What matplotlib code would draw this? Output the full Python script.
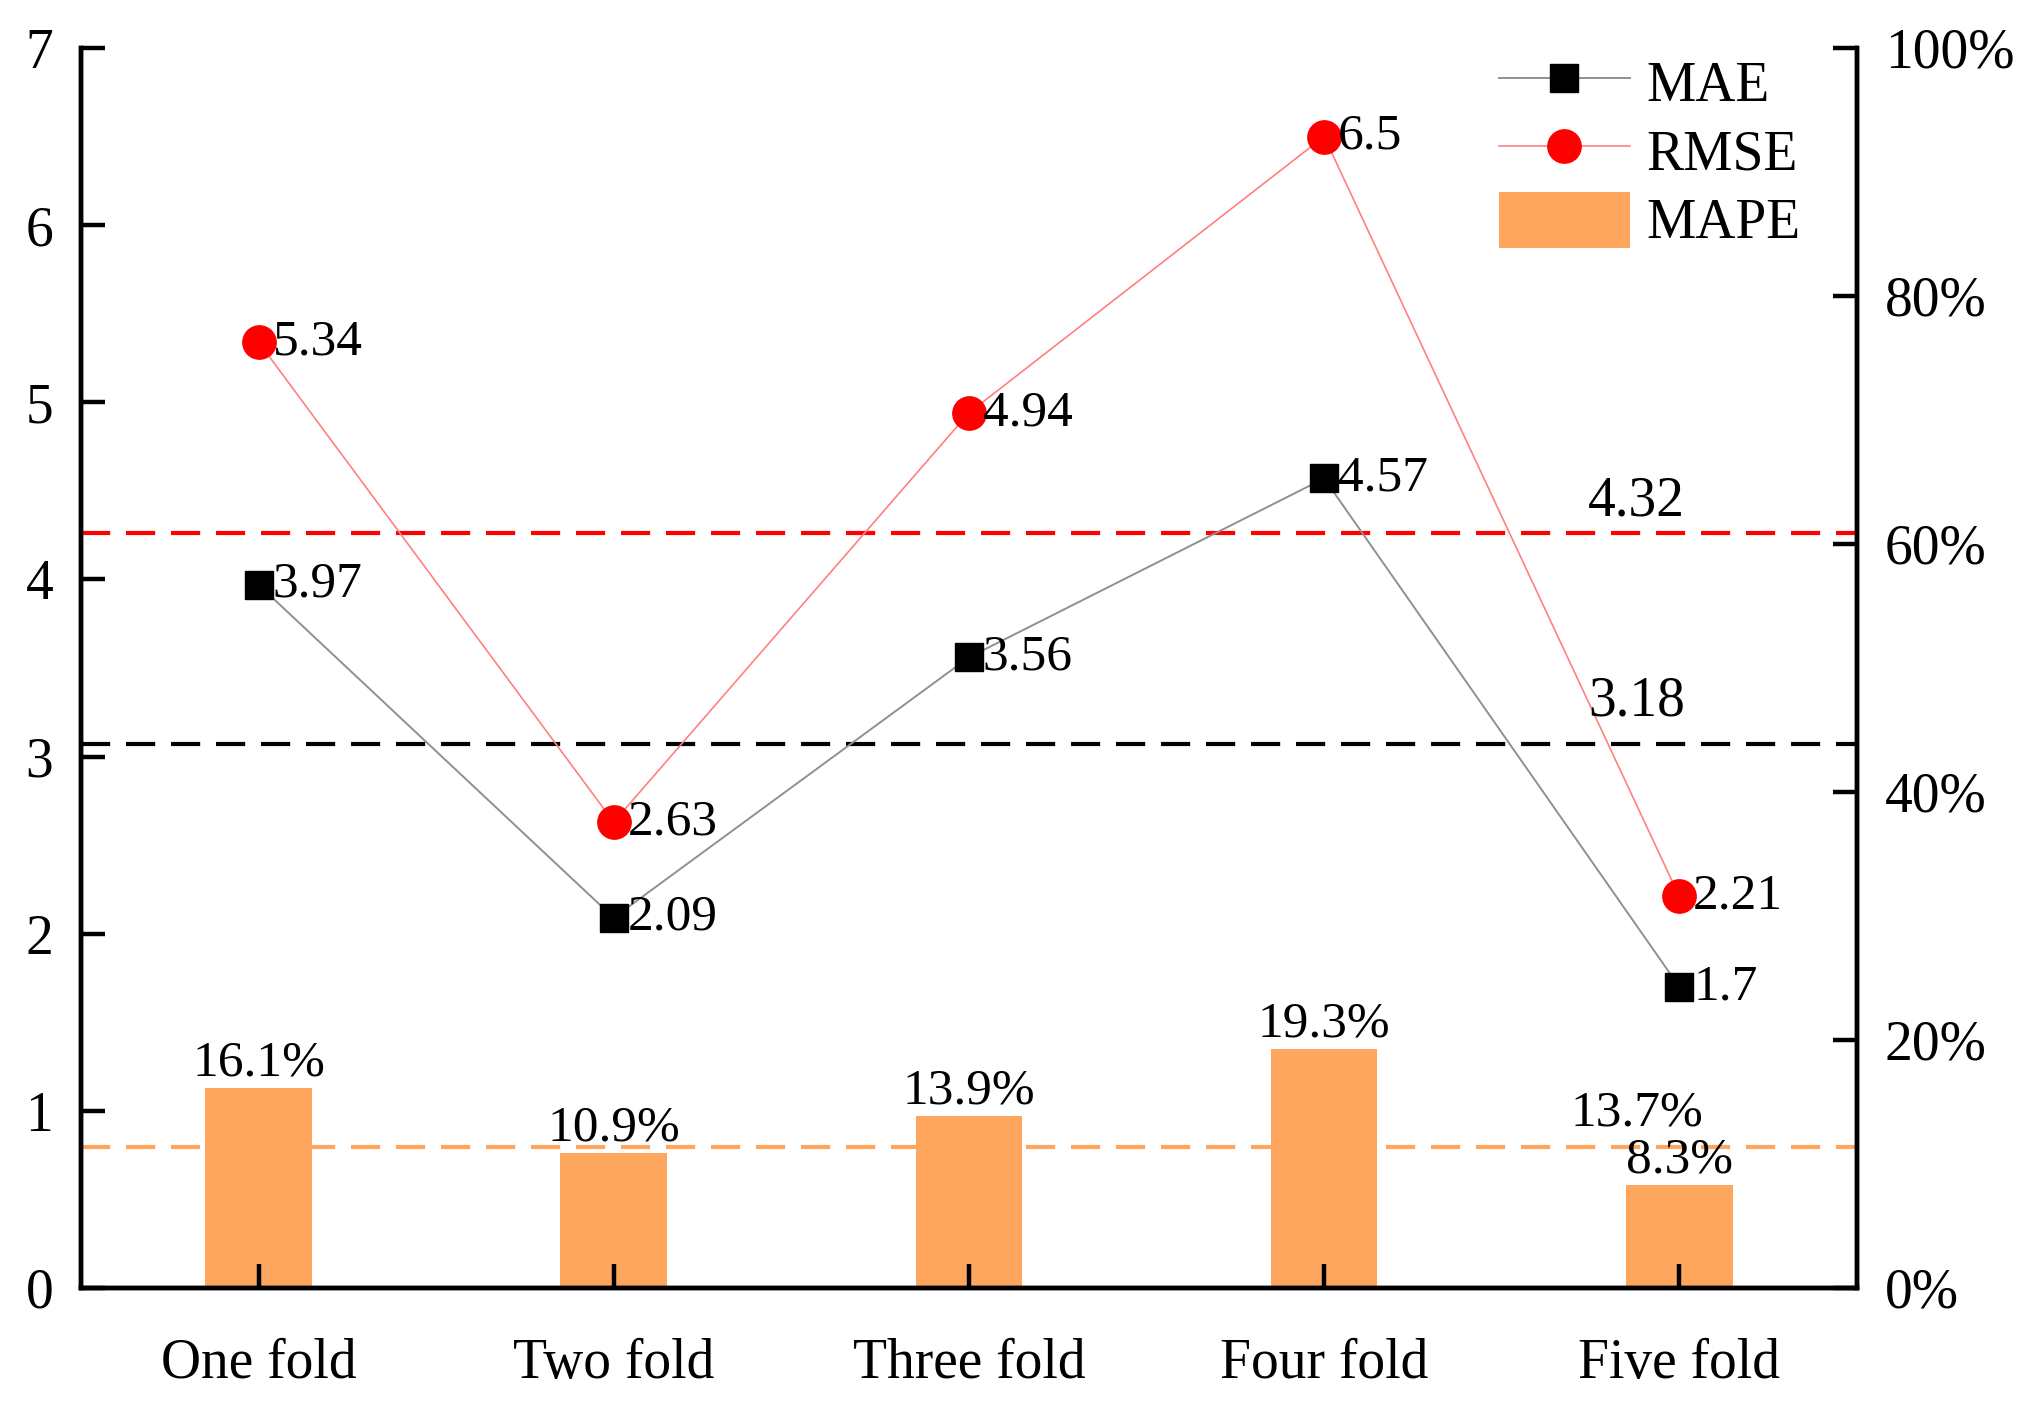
import numpy as np
import matplotlib.pyplot as plt
from matplotlib.ticker import FuncFormatter
from matplotlib.patches import Rectangle
from matplotlib.legend_handler import HandlerPatch

plt.rcParams['font.family'] = ['Liberation Serif', 'DejaVu Serif']

folds = ["One fold", "Two fold", "Three fold", "Four fold", "Five fold"]
mae = [3.97, 2.09, 3.56, 4.57, 1.7]
rmse = [5.34, 2.63, 4.94, 6.5, 2.21]
mape = [16.1, 10.9, 13.9, 19.3, 8.3]      # in %

# dashed reference lines: height as drawn in the figure, text as printed
rmse_ref, rmse_ref_txt = 4.26, "4.32"
mae_ref, mae_ref_txt = 3.07, "3.18"
mape_ref, mape_ref_txt = 11.4, "13.7%"

c_bar = '#ffa65e'
fs = 40
fs_lab = 37


def tall_patch(legend, orig_handle, xdescent, ydescent, width, height, fontsize):
    # legend box for the bars is a bit taller than the default
    h = height * 1.25
    return Rectangle((-xdescent, -ydescent - (h - height) / 2), width, h)


fig = plt.figure(figsize=(20.33, 14.11), dpi=100)
ax = fig.add_axes([0.0398, 0.0872, 0.8736, 0.8788])
ax2 = ax.twinx()
ax.set_zorder(2)
ax.patch.set_visible(False)

x = np.arange(len(folds))

# bars (right axis)
bars = ax2.bar(x, mape, width=0.3, color=c_bar, label="MAPE", zorder=2)
ax2.bar_label(bars, labels=[f"{v}%" for v in mape], padding=1, fontsize=fs_lab)
ax2.axhline(mape_ref, color=c_bar, lw=3, dashes=(7, 3.8), zorder=1)
ax2.annotate(mape_ref_txt, (3.88, mape_ref), xytext=(0, 24), textcoords='offset points',
             ha='center', va='center', fontsize=fs_lab)

# lines (left axis)
ax.axhline(rmse_ref, color='red', lw=3, dashes=(7, 3.8), zorder=1)
ax.axhline(mae_ref, color='black', lw=3, dashes=(7, 3.8), zorder=1)
ax.plot(x, mae, color='#909090', lw=1.4, marker='s', ms=20, mfc='black', mec='black', label="MAE", zorder=3)
ax.plot(x, rmse, color='#ff8080', lw=1.2, marker='o', ms=24, mfc='red', mec='red', label="RMSE", zorder=3)

for xi, v in zip(x, mae):
    ax.annotate(f"{v:g}", (xi, v), xytext=(10, 0), textcoords='offset points',
                ha='left', va='center', fontsize=fs_lab)
for xi, v in zip(x, rmse):
    ax.annotate(f"{v:g}", (xi, v), xytext=(10, 0), textcoords='offset points',
                ha='left', va='center', fontsize=fs_lab)

ax.annotate(rmse_ref_txt, (3.88, rmse_ref), xytext=(0, 23), textcoords='offset points',
            ha='center', va='center', fontsize=fs)
ax.annotate(mae_ref_txt, (3.88, mae_ref), xytext=(0, 31), textcoords='offset points',
            ha='center', va='center', fontsize=fs)

ax.set_xlim(-0.5, 4.5)
ax.set_ylim(0, 7)
ax2.set_ylim(0, 100)
ax.set_xticks(x)
ax.set_xticklabels(folds)
ax.set_yticks(range(8))
ax2.set_yticks(range(0, 101, 20))
ax2.yaxis.set_major_formatter(FuncFormatter(lambda v, p: f"{v:.0f}%"))

for a in (ax, ax2):
    a.spines['top'].set_visible(False)
    for s in a.spines.values():
        s.set_linewidth(3.2)
ax.tick_params(axis='both', direction='in', length=17, width=3.2, labelsize=fs)
ax.tick_params(axis='y', pad=20)
ax.tick_params(axis='x', pad=36)
ax2.tick_params(axis='y', direction='in', length=17, width=3.2, labelsize=fs, pad=20)

h1, l1 = ax.get_legend_handles_labels()
h2, l2 = ax2.get_legend_handles_labels()
ax.legend(h1 + h2, l1 + l2, loc='upper left', bbox_to_anchor=(0.7373, 0.9615),
          bbox_transform=fig.transFigure, frameon=False, fontsize=fs,
          borderpad=0, borderaxespad=0, handlelength=2.36, handletextpad=0.29,
          handleheight=1.17, labelspacing=0.18,
          handler_map={Rectangle: HandlerPatch(patch_func=tall_patch)})

fig.savefig("out.png", dpi=100)
